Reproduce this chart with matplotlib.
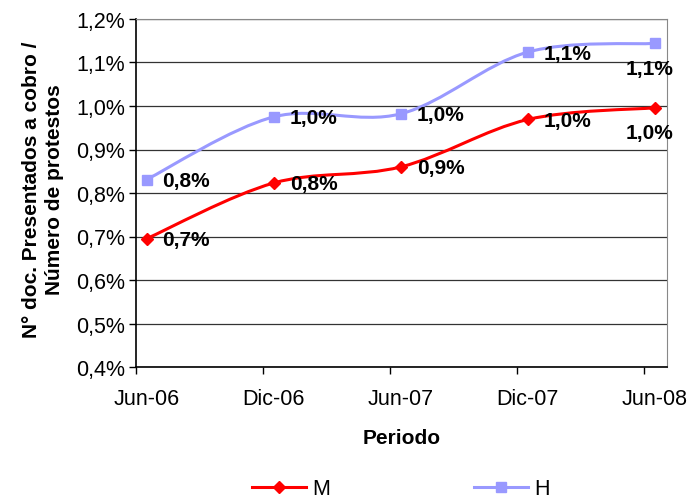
import numpy as np
import matplotlib.pyplot as plt
from matplotlib.path import Path
from matplotlib.patches import PathPatch
from matplotlib.lines import Line2D

plt.rcParams['font.family'] = ['Liberation Sans', 'DejaVu Sans']

# data
periods = ["Jun-06", "Dic-06", "Jun-07", "Dic-07", "Jun-08"]
month_idx = [0, 6, 12, 18, 24]          # months since Jun-06
m_vals = [0.695, 0.823, 0.860, 0.969, 0.996]
h_vals = [0.831, 0.975, 0.982, 1.124, 1.144]
y_ticks = [0.4, 0.5, 0.6, 0.7, 0.8, 0.9, 1.0, 1.1, 1.2]

M_COLOR = "#FF0000"
H_COLOR = "#9999FF"
FS_TICK = 15.5
FS_LAB = 15


def pct(v):
    return f"{v:.1f}%".replace(".", ",")


def smooth_path(xs, ys):
    """Excel-like smoothed line: Catmull-Rom segments as cubic Beziers."""
    pts = np.column_stack([xs, ys])
    ext = np.vstack([pts[0], pts, pts[-1]])
    verts = [pts[0]]
    codes = [Path.MOVETO]
    for i in range(len(pts) - 1):
        p0, p1, p2, p3 = ext[i], ext[i + 1], ext[i + 2], ext[i + 3]
        verts += [p1 + (p2 - p0) / 6, p2 - (p3 - p1) / 6, p2]
        codes += [Path.CURVE4] * 3
    return Path(verts, codes)


# points sit in the middle of their month on the date axis
x = np.array(month_idx) + 0.5

fig = plt.figure(figsize=(6.88, 5.02), dpi=100)
ax = fig.add_axes([136 / 688, 1 - 368 / 502, (667 - 136) / 688, (368 - 20) / 502])

for vals, color, marker, ms in [(m_vals, M_COLOR, "D", 6.5), (h_vals, H_COLOR, "s", 6.5)]:
    ax.add_patch(PathPatch(smooth_path(x, vals), fill=False, edgecolor=color,
                           lw=2.2, capstyle="round", joinstyle="round", zorder=3))
    ax.plot(x, vals, ls="none", marker=marker, ms=ms, color=color, zorder=4)
    for i, (xi, v) in enumerate(zip(x, vals)):
        if i < len(vals) - 1:
            ax.annotate(pct(v), (xi, v), xytext=(16, -1), textcoords="offset pixels",
                        ha="left", va="center", fontsize=FS_LAB, fontweight="bold", zorder=5)
        else:
            ax.annotate(pct(v), (xi, v), xytext=(-5, -25), textcoords="offset pixels",
                        ha="center", va="center", fontsize=FS_LAB, fontweight="bold", zorder=5)

ax.set_xlim(0, 25.07)
ax.set_ylim(0.4, 1.2)
ax.set_yticks(y_ticks)
ax.set_yticklabels([pct(v) for v in y_ticks], fontsize=FS_TICK)

# tick marks on month boundaries, labels centred on the points
ax.set_xticks(month_idx)
ax.set_xticklabels([])
ax.set_xticks(x, minor=True)
ax.set_xticklabels(periods, minor=True, fontsize=FS_TICK)
ax.tick_params(axis="x", which="minor", length=0, pad=15)
ax.tick_params(axis="x", which="major", length=5, direction="out", width=1)
ax.tick_params(axis="y", length=5, direction="out", width=1, pad=3)

ax.grid(axis="y", color="#333333", lw=0.9)
ax.set_axisbelow(True)
for side in ["top", "right"]:
    ax.spines[side].set_color("#888888")
for side in ["left", "bottom"]:
    ax.spines[side].set_color("black")
    ax.spines[side].set_linewidth(1.2)

ax.set_xlabel("Periodo", fontsize=FS_LAB, fontweight="bold", labelpad=14)
fig.text(43 / 688, 1 - 190 / 502, "N° doc. Presentados a cobro /\nNúmero de protestos",
         rotation=90, ha="center", va="center", multialignment="center",
         fontsize=FS_LAB, fontweight="bold", linespacing=1.3)

handles = [
    Line2D([], [], color=M_COLOR, lw=2.2, marker="D", ms=6.5),
    Line2D([], [], color=H_COLOR, lw=2.2, marker="s", ms=6.5),
]
fig.legend(handles, ["M", "H"], loc="center", bbox_to_anchor=(401 / 688, 1 - 490 / 502),
           ncol=2, frameon=False, fontsize=FS_TICK, handlelength=2.5, handletextpad=0.3,
           columnspacing=6.7)

fig.savefig("out.png", dpi=100)
